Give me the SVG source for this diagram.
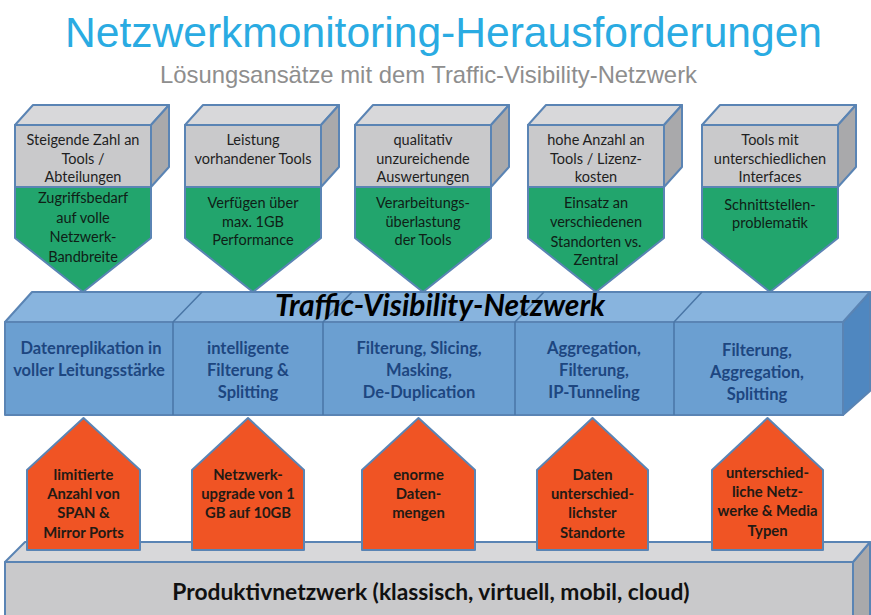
<svg xmlns="http://www.w3.org/2000/svg" width="871" height="615" viewBox="0 0 871 615">
  <style>
    .title { font-family: "Liberation Sans", Arial, sans-serif; font-size: 42px; fill: #2aabe2; }
    .subtitle { font-family: "Liberation Sans", Arial, sans-serif; font-size: 24px; fill: #8e8e8e; }
    .edge { stroke: #5a84b4; stroke-width: 2; stroke-linejoin: round; }
    .g-front { fill: #c9c9cb; }
    .g-top { fill: #d8d8da; }
    .g-side { fill: #a9a9ab; }
    .green { fill: #22a56d; }
    .b-front { fill: #6b9fd1; }
    .b-top { fill: #88b4de; }
    .b-side { fill: #4f87c0; }
    .orange { fill: #f05424; }
    .t-gray { font-family: Lato, "Open Sans", sans-serif; font-size: 14.5px; fill: #1f1f1f; text-anchor: middle; }
    .t-green { font-family: Lato, "Open Sans", sans-serif; font-size: 14.5px; fill: #0f2016; text-anchor: middle; }
    .t-blue { font-family: Lato, "Open Sans", sans-serif; font-size: 16.5px; font-weight: bold; fill: #1d4680; text-anchor: middle; }
    .t-orange { font-family: Lato, "Open Sans", sans-serif; font-size: 14.8px; font-weight: bold; fill: #231a14; text-anchor: middle; }
    .t-band { font-family: Lato, "Open Sans", sans-serif; font-size: 30px; font-weight: bold; font-style: italic; fill: #000; text-anchor: middle; }
    .t-base { font-family: Lato, "Open Sans", sans-serif; font-size: 22.8px; font-weight: bold; fill: #111; text-anchor: middle; }
    .div { stroke: #4a76a6; stroke-width: 1.5; fill: none; }
  </style>

  <rect width="871" height="615" fill="#ffffff"/>

  <!-- Headings -->
  <text class="title" x="443.5" y="47" text-anchor="middle" textLength="757" lengthAdjust="spacingAndGlyphs">Netzwerkmonitoring-Herausforderungen</text>
  <text class="subtitle" x="428.5" y="83" text-anchor="middle" textLength="537" lengthAdjust="spacingAndGlyphs">Lösungsansätze mit dem Traffic-Visibility-Netzwerk</text>

  <!-- Base slab: production network -->
  <g id="produktivnetzwerk">
    <polygon class="g-side edge" points="853,562 870,542 870,617 853,617"/>
    <polygon class="g-top edge" points="5,562 25,542 870,542 853,562"/>
    <rect class="g-front edge" x="5" y="562" width="848" height="56"/>
    <text class="t-base" x="431" y="600">Produktivnetzwerk (klassisch, virtuell, mobil, cloud)</text>
  </g>

  <!-- Traffic visibility band -->
  <g id="traffic-visibility-netzwerk">
    <polygon class="b-side edge" points="843,322 870,292 870,391 843,415"/>
    <polygon class="b-top edge" points="5,322 32,292 870,292 843,322"/>
    <rect class="b-front edge" x="5" y="322" width="838" height="93"/>
    <path class="div" d="M173,322 L202,292 M323,322 L352,292 M515,322 L544,292 M674,322 L702,292 M173,322 V415 M323,322 V415 M515,322 V415 M674,322 V415"/>
    <text class="t-band" x="440" y="316">Traffic-Visibility-Netzwerk</text>
    <text class="t-blue"><tspan x="91" y="354">Datenreplikation in</tspan><tspan x="89" y="376">voller Leitungsstärke</tspan></text>
    <text class="t-blue"><tspan x="248" y="354">intelligente</tspan><tspan x="248" y="376">Filterung &amp;</tspan><tspan x="248" y="398">Splitting</tspan></text>
    <text class="t-blue"><tspan x="419" y="354">Filterung, Slicing,</tspan><tspan x="419" y="376">Masking,</tspan><tspan x="419" y="398">De-Duplication</tspan></text>
    <text class="t-blue"><tspan x="594" y="354">Aggregation,</tspan><tspan x="594" y="376">Filterung,</tspan><tspan x="594" y="398">IP-Tunneling</tspan></text>
    <text class="t-blue"><tspan x="757" y="356">Filterung,</tspan><tspan x="757" y="378">Aggregation,</tspan><tspan x="757" y="399.5">Splitting</tspan></text>
  </g>

  <!-- Tool challenges: gray block with green arrow -->
  <g id="tools-1">
    <polygon class="g-top edge" points="15,125 33,105 169,105 151,125"/>
    <polygon class="g-side edge" points="151,125 169,105 169,167 151,187"/>
    <rect class="g-front edge" x="15" y="125" width="136" height="62"/>
    <polygon class="green edge" points="15,187 151,187 151,238 83,292 15,238"/>
    <text class="t-gray"><tspan x="83" y="145">Steigende Zahl an</tspan><tspan x="83" y="163.5">Tools /</tspan><tspan x="83" y="182">Abteilungen</tspan></text>
    <text class="t-green"><tspan x="83" y="203">Zugriffsbedarf</tspan><tspan x="83" y="222.5">auf volle</tspan><tspan x="83" y="242">Netzwerk-</tspan><tspan x="83" y="261.5">Bandbreite</tspan></text>
  </g>
  <g id="tools-2">
    <polygon class="g-top edge" points="185,125 203,105 339,105 321,125"/>
    <polygon class="g-side edge" points="321,125 339,105 339,167 321,187"/>
    <rect class="g-front edge" x="185" y="125" width="136" height="62"/>
    <polygon class="green edge" points="185,187 321,187 321,238 253,292 185,238"/>
    <text class="t-gray"><tspan x="253" y="145">Leistung</tspan><tspan x="253" y="163.5">vorhandener Tools</tspan></text>
    <text class="t-green"><tspan x="253" y="208">Verfügen über</tspan><tspan x="253" y="226.5">max. 1GB</tspan><tspan x="253" y="245">Performance</tspan></text>
  </g>
  <g id="tools-3">
    <polygon class="g-top edge" points="355,125 373,105 509,105 491,125"/>
    <polygon class="g-side edge" points="491,125 509,105 509,167 491,187"/>
    <rect class="g-front edge" x="355" y="125" width="136" height="62"/>
    <polygon class="green edge" points="355,187 491,187 491,238 423,292 355,238"/>
    <text class="t-gray"><tspan x="423" y="145">qualitativ</tspan><tspan x="423" y="163.5">unzureichende</tspan><tspan x="423" y="182">Auswertungen</tspan></text>
    <text class="t-green"><tspan x="423" y="208">Verarbeitungs-</tspan><tspan x="423" y="226.5">überlastung</tspan><tspan x="423" y="245">der Tools</tspan></text>
  </g>
  <g id="tools-4">
    <polygon class="g-top edge" points="528,125 546,105 682,105 664,125"/>
    <polygon class="g-side edge" points="664,125 682,105 682,167 664,187"/>
    <rect class="g-front edge" x="528" y="125" width="136" height="62"/>
    <polygon class="green edge" points="528,187 664,187 664,238 596,292 528,238"/>
    <text class="t-gray"><tspan x="596" y="145">hohe Anzahl an</tspan><tspan x="596" y="163.5">Tools / Lizenz-</tspan><tspan x="596" y="182">kosten</tspan></text>
    <text class="t-green"><tspan x="596" y="208">Einsatz an</tspan><tspan x="596" y="227">verschiedenen</tspan><tspan x="596" y="246.5">Standorten vs.</tspan><tspan x="596" y="265">Zentral</tspan></text>
  </g>
  <g id="tools-5">
    <polygon class="g-top edge" points="702,125 720,105 856,105 838,125"/>
    <polygon class="g-side edge" points="838,125 856,105 856,167 838,187"/>
    <rect class="g-front edge" x="702" y="125" width="136" height="62"/>
    <polygon class="green edge" points="702,187 838,187 838,238 770,292 702,238"/>
    <text class="t-gray"><tspan x="770" y="145">Tools mit</tspan><tspan x="770" y="163.5">unterschiedlichen</tspan><tspan x="770" y="182">Interfaces</tspan></text>
    <text class="t-green"><tspan x="770" y="210">Schnittstellen-</tspan><tspan x="770" y="228">problematik</tspan></text>
  </g>

  <!-- Network challenges: orange arrows pointing up -->
  <g id="netz-1">
    <polygon class="orange edge" points="27,550 27,470 83.5,418 140,470 140,550"/>
    <text class="t-orange"><tspan x="83.5" y="480">limitierte</tspan><tspan x="83.5" y="499">Anzahl von</tspan><tspan x="83.5" y="518">SPAN &amp;</tspan><tspan x="83.5" y="538">Mirror Ports</tspan></text>
  </g>
  <g id="netz-2">
    <polygon class="orange edge" points="192,550 192,470 248,418 304,470 304,550"/>
    <text class="t-orange"><tspan x="248" y="480">Netzwerk-</tspan><tspan x="248" y="499">upgrade von 1</tspan><tspan x="248" y="517.5">GB auf 10GB</tspan></text>
  </g>
  <g id="netz-3">
    <polygon class="orange edge" points="362,550 362,470 418.5,418 475,470 475,550"/>
    <text class="t-orange"><tspan x="418.5" y="480">enorme</tspan><tspan x="418.5" y="499">Daten-</tspan><tspan x="418.5" y="517.5">mengen</tspan></text>
  </g>
  <g id="netz-4">
    <polygon class="orange edge" points="537,550 537,470 592.5,418 648,470 648,550"/>
    <text class="t-orange"><tspan x="592.5" y="480">Daten</tspan><tspan x="592.5" y="499">unterschied-</tspan><tspan x="592.5" y="518">lichster</tspan><tspan x="592.5" y="538">Standorte</tspan></text>
  </g>
  <g id="netz-5">
    <polygon class="orange edge" points="712,550 712,470 767.5,418 823,470 823,550"/>
    <text class="t-orange"><tspan x="767.5" y="478">unterschied-</tspan><tspan x="767.5" y="497">liche Netz-</tspan><tspan x="767.5" y="516">werke &amp; Media</tspan><tspan x="767.5" y="536">Typen</tspan></text>
  </g>
</svg>
